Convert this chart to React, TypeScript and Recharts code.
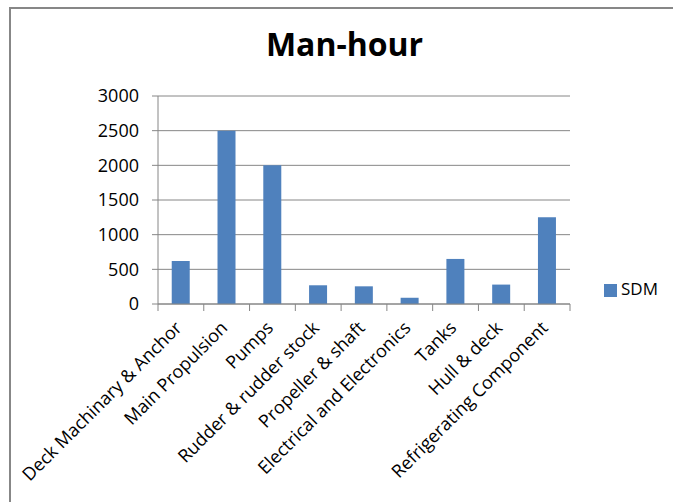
import React from "react";
import { BarChart, Bar, XAxis, YAxis, CartesianGrid, Legend } from "recharts";

const categories = [
  "Deck Machinary & Anchor",
  "Main Propulsion",
  "Pumps",
  "Rudder & rudder stock",
  "Propeller & shaft",
  "Electrical and Electronics",
  "Tanks",
  "Hull & deck",
  "Refrigerating Component",
];
const sdmValues = [620, 2500, 2000, 270, 255, 90, 650, 280, 1250];
const yTicks = [0, 500, 1000, 1500, 2000, 2500, 3000];

const data = categories.map((name, i) => ({ name, SDM: sdmValues[i] }));

const FONT = "'Open Sans', sans-serif";
const AXIS = "#868686";

const XTick = (props: any) => {
  const { x, y, payload, index, visibleTicksCount } = props;
  const half = payload && payload.offset ? payload.offset : 0;
  const last = index === (visibleTicksCount ?? categories.length) - 1;
  const ax = x + 2;
  const ay = y + 17;
  return (
    <g>
      <line x1={x - half} x2={x - half} y1={y - 8} y2={y - 1} stroke={AXIS} strokeWidth={1} />
      {last && <line x1={x + half} x2={x + half} y1={y - 8} y2={y - 1} stroke={AXIS} strokeWidth={1} />}
      <text
        x={ax}
        y={ay}
        textAnchor="end"
        fontFamily={FONT}
        fontSize={18}
        fill="#000"
        transform={`rotate(-45, ${ax}, ${ay})`}
      >
        {payload.value}
      </text>
    </g>
  );
};

export default function App() {
  return (
    <div style={{ position: "absolute", left: 0, top: 0, width: 673, height: 502, overflow: "hidden", background: "#fff" }}>
      <div
        style={{
          position: "absolute",
          left: 9,
          top: 7,
          width: 700,
          height: 600,
          borderLeft: "2px solid #878787",
          borderTop: "2px solid #878787",
        }}
      />
      <div
        style={{
          position: "absolute",
          left: 0,
          top: 22,
          width: 673,
          textAlign: "center",
          fontFamily: FONT,
          fontWeight: 700,
          fontSize: 32,
          color: "#000",
          lineHeight: "44px",
          paddingLeft: 16,
          boxSizing: "border-box",
        }}
      >
        Man-hour
      </div>
      <div style={{ position: "absolute", left: 0, top: 0 }}>
        <BarChart
          width={673}
          height={502}
          data={data}
          margin={{ top: 96, right: 103, left: 0, bottom: 0 }}
          barCategoryGap="30%"
        >
          <CartesianGrid vertical={false} stroke={AXIS} strokeWidth={1} />
          <XAxis
            dataKey="name"
            interval={0}
            height={198}
            stroke={AXIS}
            tickLine={false}
            tick={<XTick />}
          />
          <YAxis
            width={158}
            domain={[0, 3000]}
            ticks={yTicks}
            stroke={AXIS}
            tickSize={6}
            tickMargin={13}
            tick={{ fontFamily: FONT, fontSize: 18, fill: "#000" }}
          />
          <Legend
            layout="horizontal"
            verticalAlign="middle"
            align="center"
            iconType="square"
            iconSize={13}
            wrapperStyle={{ position: "absolute", left: 596, top: 277, width: 80, fontFamily: FONT, fontSize: 17, lineHeight: "24px" }}
            formatter={(v: any) => <span style={{ color: "#000" }}>{v}</span>}
          />
          <Bar dataKey="SDM" fill="#4F81BD" isAnimationActive={false} />
        </BarChart>
      </div>
    </div>
  );
}
